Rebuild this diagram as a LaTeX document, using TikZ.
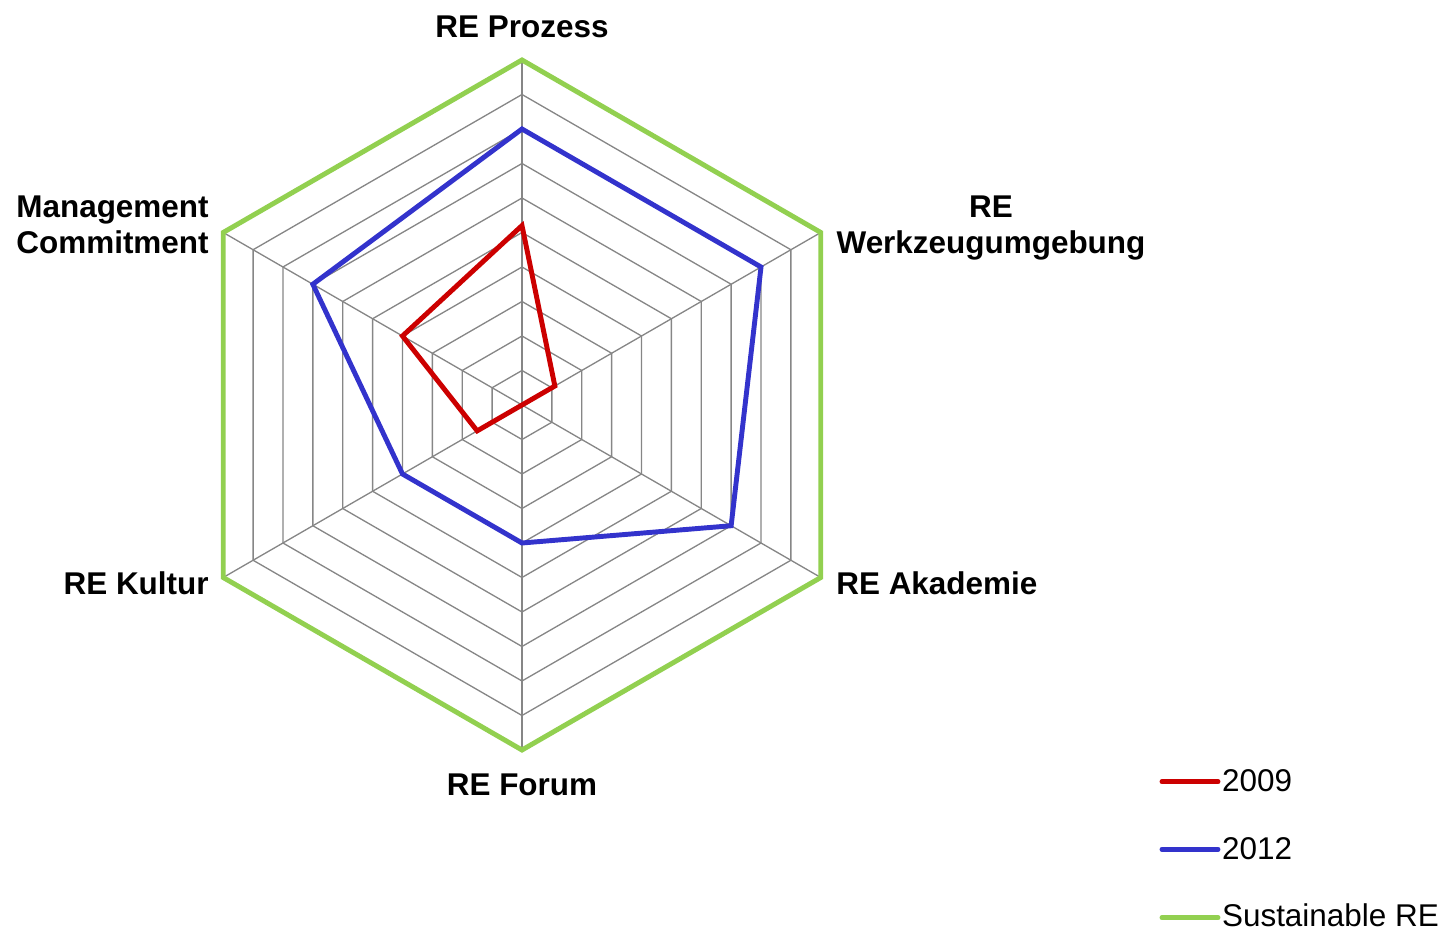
\documentclass[tikz,border=0pt]{standalone}
\usepackage{fontspec}
\setmainfont{Liberation Sans}
\definecolor{red2009}{RGB}{204,0,0}
\definecolor{blue2012}{RGB}{51,51,204}
\definecolor{greenRE}{RGB}{146,208,80}
\definecolor{gridgray}{RGB}{134,134,134}
\def\unit{0.69}
\tikzset{
 gridline/.style={gridgray,line width=0.75pt},
 dataline/.style={line width=2.8pt,line join=miter},
 axislabel/.style={font=\bfseries\fontsize{17.9}{20.5}\selectfont,inner sep=0pt},
 legendtext/.style={font=\fontsize{17.9}{20.5}\selectfont,inner sep=0pt,anchor=base west}
}
\begin{document}
\begin{tikzpicture}
 \useasboundingbox (-10.44,-10.52) rectangle (18.44,8.1);
 \foreach \k in {1,...,9}
  \draw[gridline] (90:\k*\unit)--(30:\k*\unit)--(-30:\k*\unit)--(-90:\k*\unit)--(-150:\k*\unit)--(150:\k*\unit)--cycle;
 \coordinate (O) at (0,0);
 \foreach \a/\n in {90/prozess,30/werkzeug,-30/akademie,-90/forum,-150/kultur,150/management}{
  \coordinate (\n) at (\a:10*\unit);
  \draw[gridline] (O)--(\n);
 }
 \draw[greenRE,dataline] (prozess)--(werkzeug)--(akademie)--(forum)--(kultur)--(management)--cycle;
 \draw[blue2012,dataline] (90:8*\unit)--(30:8*\unit)--(-30:7*\unit)--(-90:4*\unit)--(-150:4*\unit)--(150:7*\unit)--cycle;
 \draw[red2009,dataline] (90:5.2*\unit)--(30:1.1*\unit)--(O)--(-150:1.5*\unit)--(150:4*\unit)--cycle;
 \node[axislabel,anchor=base] (lprozess) at (0,7.354) {RE Prozess};
 \node[axislabel,anchor=base,align=center] (lwerkzeug) at (9.38,3.034) {RE\\Werkzeugumgebung};
 \node[axislabel,anchor=base west] (lakademie) at (6.28,-3.786) {RE Akademie};
 \node[axislabel,anchor=base] (lforum) at (0,-7.82) {RE Forum};
 \node[axislabel,anchor=base east] (lkultur) at (-6.26,-3.786) {RE Kultur};
 \node[axislabel,anchor=base east,align=right] (lmanagement) at (-6.26,3.034) {Management\\Commitment};
 \coordinate (k2009a) at (12.8,-7.534);
 \coordinate (k2009b) at (13.92,-7.534);
 \coordinate (k2012a) at (12.8,-8.886);
 \coordinate (k2012b) at (13.92,-8.886);
 \coordinate (kREa) at (12.8,-10.254);
 \coordinate (kREb) at (13.92,-10.254);
 \draw[red2009,dataline,line cap=round] (k2009a)--(k2009b);
 \draw[blue2012,dataline,line cap=round] (k2012a)--(k2012b);
 \draw[greenRE,dataline,line cap=round] (kREa)--(kREb);
 \node[legendtext] (t2009) at (13.994,-7.734) {2009};
 \node[legendtext] (t2012) at (13.994,-9.1) {2012};
 \node[legendtext] (tRE) at (13.994,-10.434) {Sustainable RE};
\end{tikzpicture}
\end{document}
